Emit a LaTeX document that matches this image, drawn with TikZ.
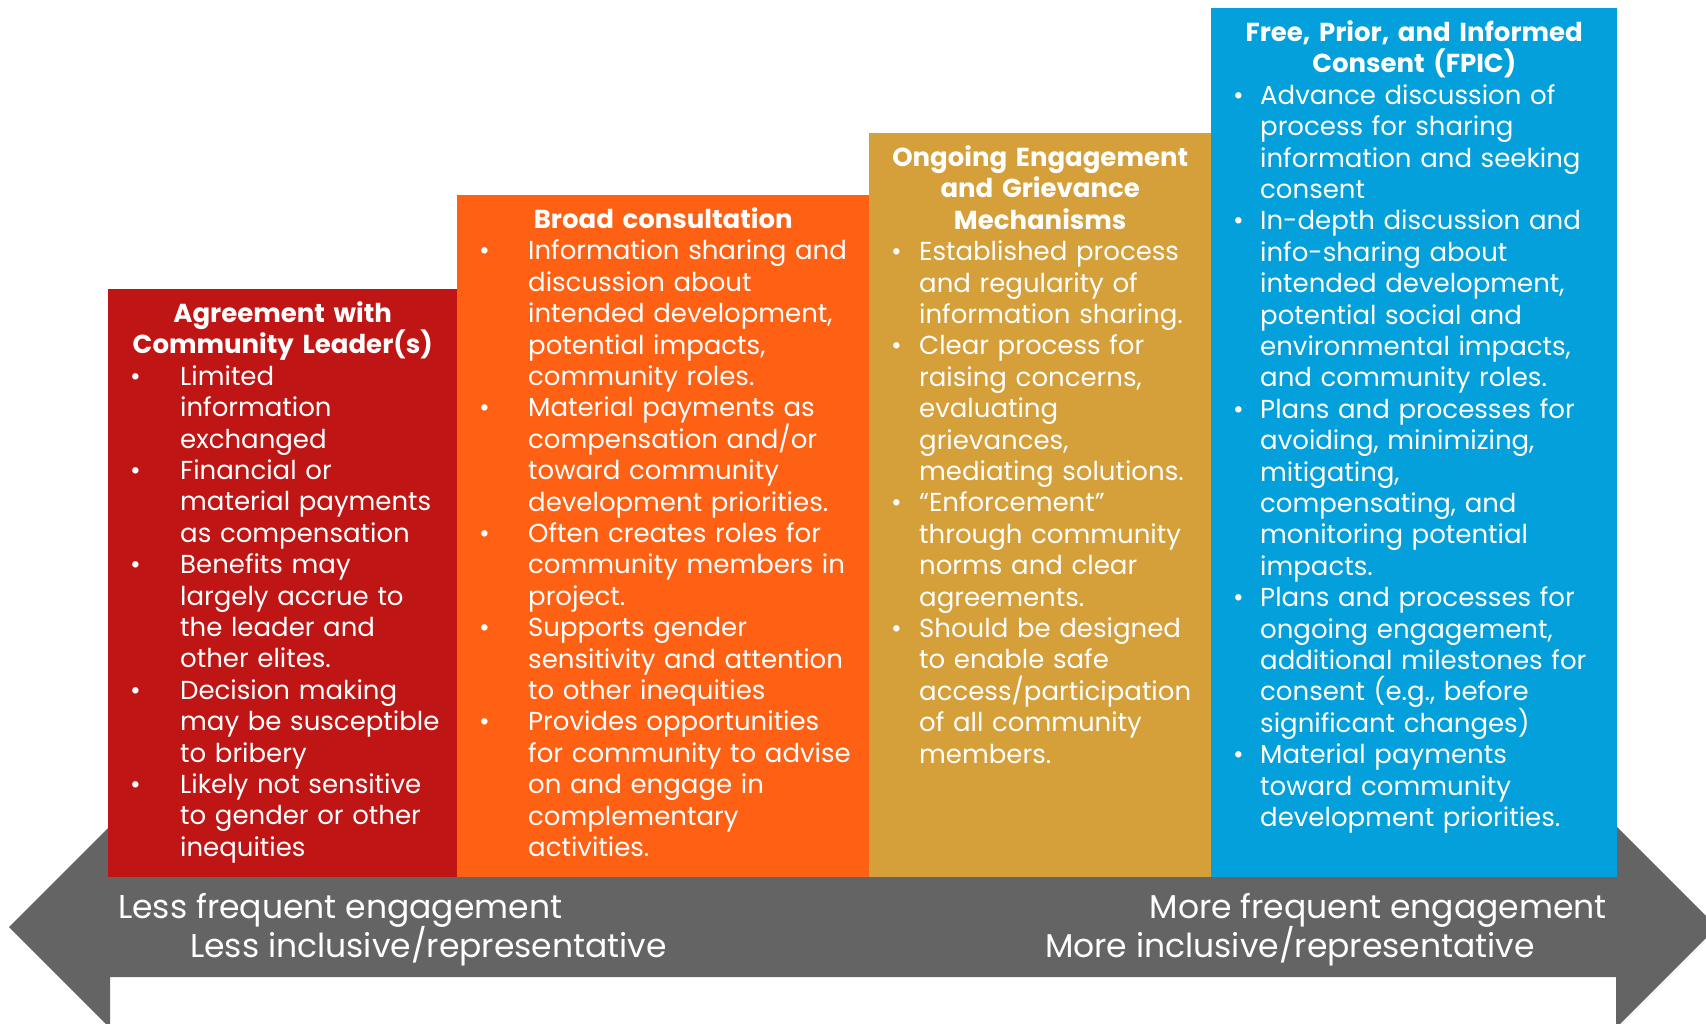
\documentclass[tikz,border=0pt]{standalone}
\usepackage{fontspec}
\setmainfont{Poppins}
\usetikzlibrary{positioning}

\definecolor{leadred}{RGB}{191,21,21}
\definecolor{consorange}{RGB}{254,96,20}
\definecolor{griegold}{RGB}{213,159,58}
\definecolor{fpicblue}{RGB}{3,160,219}
\definecolor{arrowgray}{RGB}{100,100,100}

\hyphenpenalty=10000
\exhyphenpenalty=10000

% bullet item, optional arg = text indent
\newcommand\bul[2][72pt]{\par\noindent\hangindent=#1\hangafter=1\hbox to #1{\hskip 22pt\textbullet\hfil}#2\par}
\newcommand\boxtitle[1]{{\centering\bfseries\rule{0pt}{33.4pt}#1\par}}

\begin{document}
\begin{tikzpicture}
[x=1pt,y=-1pt,every node/.style={inner sep=0pt,text=white},
 stage/.style={anchor=north west,font=\fontsize{26}{31.4}\selectfont},
 scalelabel/.style={font=\fontsize{33}{39}\selectfont}]

\useasboundingbox (0,0) rectangle (1706,1024);

%arrow
\fill[arrowgray] (110,877) -- (1616,877) -- (1616,826) -- (1717,927) -- (1616,1028) -- (1616,977)
  -- (110,977) -- (110,1028) -- (9,927) -- (110,826) -- cycle;

%steps
\foreach \c/\l/\t/\r in {leadred/108/289/457,consorange/457/195/869,griegold/869/133/1211,fpicblue/1211/8/1617}
\fill[\c] (\l,\t) rectangle (\r,877);

\node[stage,text width=349pt] (leader) at (108,289) {%
\boxtitle{Agreement with\\Community Leader(s)}
\bul{Limited\newline information\newline exchanged}
\bul{Financial or\newline material payments\newline as compensation}
\bul{Benefits may\newline largely accrue to\newline the leader and\newline other elites.}
\bul{Decision making\newline may be susceptible\newline to bribery}
\bul{Likely not sensitive\newline to gender or other\newline inequities}};

\node[stage,text width=412pt] (broad) at (457,195) {%
\boxtitle{Broad consultation}
\bul[71pt]{Information sharing and\newline discussion about\newline intended development,\newline potential impacts,\newline community roles.}
\bul[71pt]{Material payments as\newline compensation and/or\newline toward community\newline development priorities.}
\bul[71pt]{Often creates roles for\newline community members in\newline project.}
\bul[71pt]{Supports gender\newline sensitivity and attention\newline to other inequities}
\bul[71pt]{Provides opportunities\newline for community to advise\newline on and engage in\newline complementary\newline activities.}};

\node[stage,text width=342pt] (ongoing) at (869,133) {%
\boxtitle{Ongoing Engagement\\and Grievance\\Mechanisms}
\bul[50pt]{Established process\newline and regularity of\newline information sharing.}
\bul[50pt]{Clear process for\newline raising concerns,\newline evaluating\newline grievances,\newline mediating solutions.}
\bul[50pt]{“Enforcement”\newline through community\newline norms and clear\newline agreements.}
\bul[50pt]{Should be designed\newline to enable safe\newline access/participation\newline of all community\newline members.}};

\node[stage,text width=406pt] (fpic) at (1211,8) {%
\boxtitle{Free, Prior, and Informed\\Consent (FPIC)}
\bul[49pt]{Advance discussion of\newline process for sharing\newline information and seeking\newline consent}
\bul[49pt]{In-depth discussion and\newline info-sharing about\newline intended development,\newline potential social and\newline environmental impacts,\newline and community roles.}
\bul[49pt]{Plans and processes for\newline avoiding, minimizing,\newline mitigating,\newline compensating, and\newline monitoring potential\newline impacts.}
\bul[49pt]{Plans and processes for\newline ongoing engagement,\newline additional milestones for\newline consent (e.g., before\newline significant changes)}
\bul[49pt]{Material payments\newline toward community\newline development priorities.}};

%arrow labels
\node[scalelabel,anchor=base west] (lessfreq) at (118,918) {Less frequent engagement};
\node[scalelabel,anchor=base west] (lessincl) at (190,957) {Less inclusive/representative};
\node[scalelabel,anchor=base east] (morefreq) at (1607,918) {More frequent engagement};
\node[scalelabel,anchor=base east] (moreincl) at (1535,957) {More inclusive/representative};

\end{tikzpicture}
\end{document}
